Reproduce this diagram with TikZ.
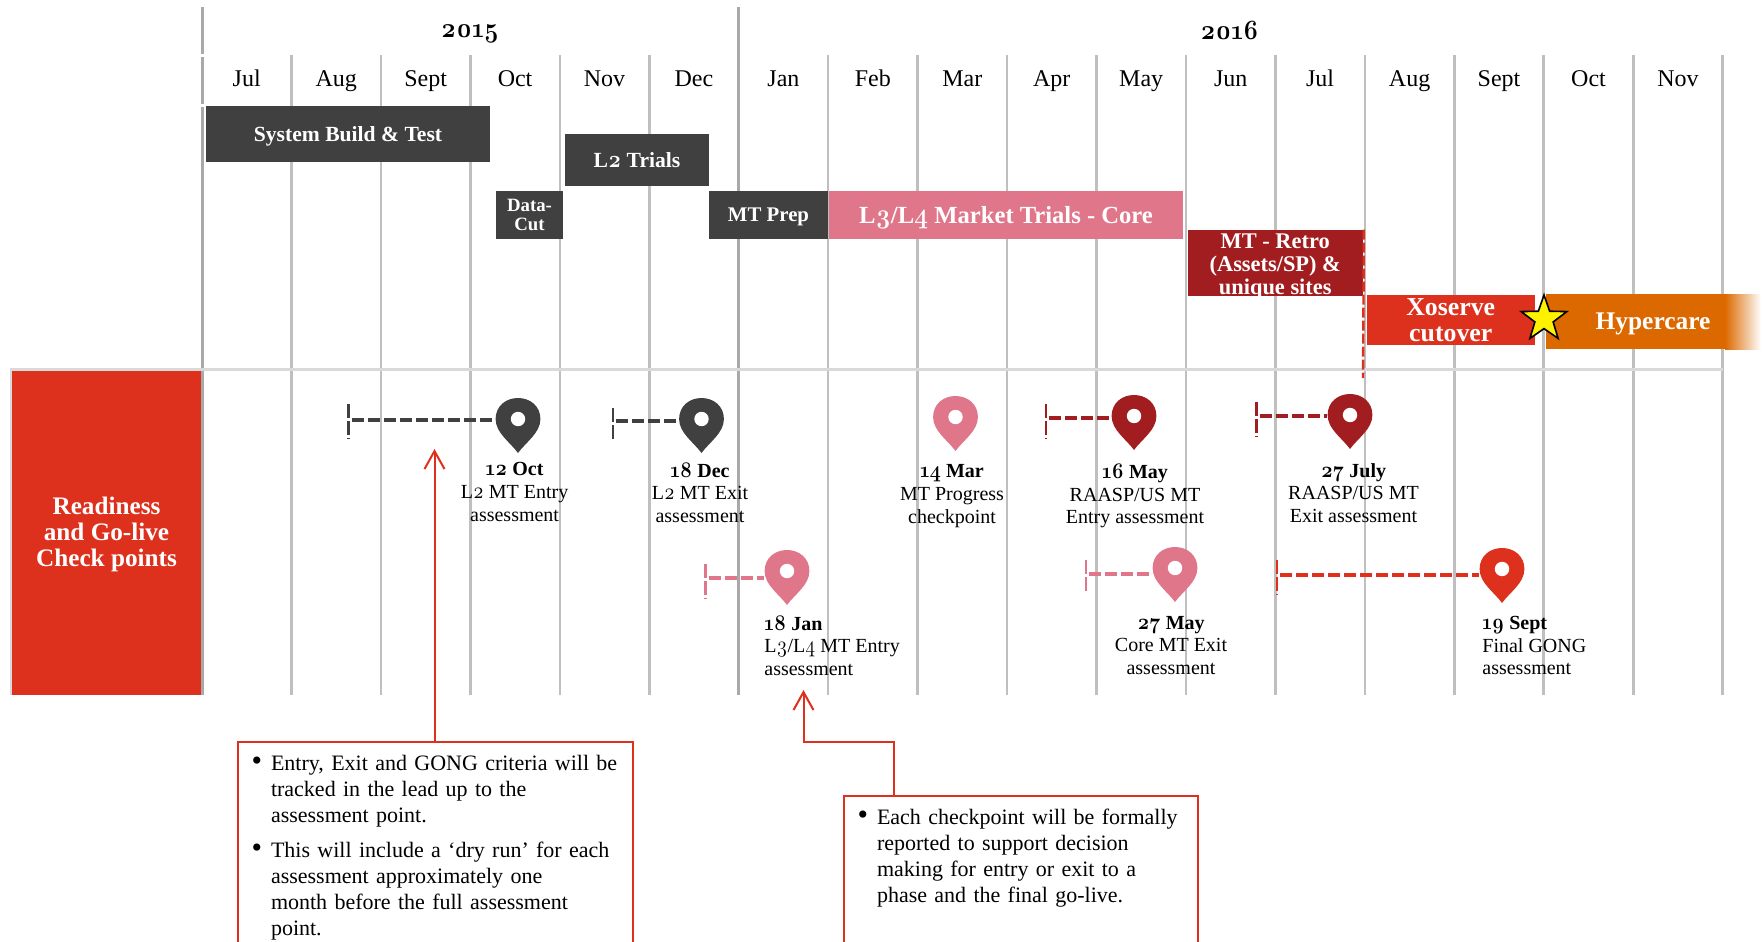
\documentclass[tikz,border=0pt]{standalone}
\usepackage{fontspec}
\setmainfont{Liberation Serif}
\newfontfamily\oldfigs[Numbers=OldStyle,Scale=1.12,FakeStretch=0.88]{Latin Modern Roman}
\usepackage{tikz}
\usetikzlibrary{shapes.geometric}
\usetikzlibrary{arrows.meta}
\definecolor{clrdark}{HTML}{404040}
\definecolor{clrpink}{HTML}{E0768A}
\definecolor{clrmaroon}{HTML}{A21D1F}
\definecolor{clrred}{HTML}{DE311D}
\definecolor{clrorange}{HTML}{DC6900}
\definecolor{clrgrid}{HTML}{BFBFBF}
\definecolor{clrgridb}{HTML}{A9A9A9}
\definecolor{clrrule}{HTML}{D9D9D9}
\def\colw{89.45}
\newcommand{\os}[1]{{\oldfigs #1}}
\tikzset{
	phase/.style={inner sep=0pt,align=center,text=white,font=\bfseries\fontsize{10.8}{11.5}\selectfont},
	oneline/.style={text depth=0pt},
	month/.style={text height=8pt,text depth=2.5pt,font=\fontsize{12}{14}\selectfont},
	year/.style={font=\bfseries\fontsize{12.5}{14}\selectfont},
	chklabel/.style={align=center,inner sep=0pt,font=\fontsize{10}{11.35}\selectfont},
	callout/.style={draw=clrred,line width=1pt,anchor=north west,inner xsep=0pt,inner ysep=1pt,
		text width=#1,text depth=110pt,font=\fontsize{11}{13}\selectfont},
	pointer/.style={draw=clrred,line width=1pt,-{Straight Barb[length=9pt,width=10pt]}},
}
\newenvironment{notelist}{\begin{list}{{\fontsize{15}{13}\selectfont\textbullet}}{%
	\setlength{\leftmargin}{16.5pt}\setlength{\labelsep}{4.5pt}\setlength{\labelwidth}{8pt}%
	\setlength{\topsep}{0pt}\setlength{\partopsep}{0pt}\setlength{\parsep}{0pt}\setlength{\itemsep}{4.5pt}}}{\end{list}}
% name, colour, position of the head centre
\newcommand{\checkpin}[3]{
	\begin{scope}[shift={#3}]
	\node [circle,minimum size=22.5pt,inner sep=0pt] (#1) at (0,0) {};
	\fill [#2] (0,33) .. controls (-8,22) and (-22.4,13) .. (-22.4,-1)
			.. controls (-22.4,-14) and (-12,-22) .. (0,-22)
			.. controls (12,-22) and (22.4,-14) .. (22.4,-1)
			.. controls (22.4,13) and (8,22) .. (0,33) -- cycle;
	\fill [white] (0,-1) circle (3.6pt);
	\end{scope}}
% pin name, colour, tick x, tick top, tick bottom, lead y
\newcommand{\leadin}[6]{
	\coordinate (#1tick) at ({#3+3},#6);
	\draw [#2,line width=1.3pt,dash pattern=on 7pt off 1.5pt] (#3,#4) -- (#3,#5);
	\draw [#2,line width=2pt,dash pattern=on 6pt off 2pt] (#1tick) -- (#1tick -| #1.west);}

\begin{document}
\begin{tikzpicture}[x=0.5pt,y=-0.5pt]
\useasboundingbox (0,0) rectangle (1764,941);
% grid
\foreach \i in {1,...,5,7,8,...,17}
	\draw [clrgrid,line width=1.3pt] ({202+\colw*\i},55) -- ({202+\colw*\i},695);
\draw [clrgridb,line width=1.5pt] (202,7) -- (202,54) (202,57) -- (202,104) (202,107) -- (202,695);
\draw [clrgridb,line width=1.5pt] ({202+\colw*6},7) -- ({202+\colw*6},695);
\draw [clrrule,line width=1.5pt] (11,695) -- (11,369) -- (1723,369);
% header
\node [year] (y2015) at (470,34) {\os{2015}};
\node [year] (y2016) at (1229.5,30) {\os{2016}};
\foreach \m [count=\i from 0] in {Jul,Aug,Sept,Oct,Nov,Dec,Jan,Feb,Mar,Apr,May,Jun,Jul,Aug,Sept,Oct,Nov}
	\node [month] (m\i) at ({202+\colw*(\i+0.5)},81) {\m};
% phases
\node [phase,oneline,fill=clrdark,minimum width=142pt,minimum height=28pt] (sysbuild) at (348,134) {System Build \& Test};
\node [phase,fill=clrdark,minimum width=72pt,minimum height=26pt] (ltwo) at (637,160) {L\os{2} Trials};
\node [phase,fill=clrdark,minimum width=33.5pt,minimum height=24pt,font=\bfseries\fontsize{9.4}{9.5}\selectfont] (datacut) at (529.5,215) {Data-\\Cut};
\node [phase,oneline,fill=clrdark,minimum width=59.5pt,minimum height=24pt,font=\bfseries\fontsize{10.4}{12}\selectfont] (mtprep) at (768.5,215) {MT Prep};
\node [phase,oneline,fill=clrpink,minimum width=177pt,minimum height=24pt,font=\bfseries\fontsize{12.3}{14}\selectfont] (core) at (1006,215) {L\os{3}/L\os{4} Market Trials - Core};
\node [phase,fill=clrmaroon,minimum width=87.25pt,minimum height=33pt] (retro) at (1275.25,263) {};
\node [phase,font=\bfseries\fontsize{11.2}{11.4}\selectfont] (retrotxt) at (1275.25,266.5) {MT - Retro\\(Assets/SP) \&\\unique sites};
\node [phase,fill=clrred,minimum width=84.25pt,minimum height=25pt,font=\bfseries\fontsize{12.9}{13}\selectfont] (xoserve) at (1450.75,320) {Xoserve\\cutover};
\fill [clrorange] (1546,294) rectangle (1725,349);
\shade [left color=clrorange,right color=white] (1725,294) rectangle (1761,349);
\node [phase,oneline,font=\bfseries\fontsize{12.7}{14}\selectfont] (hypercare) at (1653,321) {Hypercare};
\node [star,star points=5,star point ratio=2.5,minimum size=24pt,inner sep=0pt,draw=black,line width=0.8pt,fill=yellow] (golive) at (1544,319) {};
\coordinate (retrodrop) at (1363,378);
\draw [clrred,line width=1.2pt,dash pattern=on 5pt off 1.5pt] (retro.north east) ++(1,0) -- (retrodrop);
% check points
\node [phase,fill=clrred,minimum width=94.5pt,minimum height=162pt,font=\bfseries\fontsize{12.6}{13}\selectfont] (readiness) at (106.5,533) {\rule{0pt}{10.5pt}Readiness\\and Go-live\\Check points};
\checkpin {oct12} {clrdark} {(518,420)}
\checkpin {dec18} {clrdark} {(701.5,420)}
\checkpin {jan18} {clrpink} {(787,572)}
\checkpin {mar14} {clrpink} {(955.5,418)}
\checkpin {may16} {clrmaroon} {(1134,417)}
\checkpin {jul27} {clrmaroon} {(1350,416)}
\checkpin {may27} {clrpink} {(1175,569)}
\checkpin {sep19} {clrred} {(1502,570)}
\leadin {oct12} {clrdark} {348.5} {404} {439} {420}
\leadin {dec18} {clrdark} {613} {408} {442} {421}
\leadin {jan18} {clrpink} {705.5} {564} {599} {578}
\leadin {may16} {clrmaroon} {1046} {404} {439} {418}
\leadin {jul27} {clrmaroon} {1256.5} {402} {437} {416}
\leadin {may27} {clrpink} {1086} {560} {594} {574}
\leadin {sep19} {clrred} {1277} {560} {595} {575}
\node [chklabel] (oct12txt) at (514.6,492) {\textbf{\os{12} Oct}\\L\os{2} MT Entry\\assessment};
\node [chklabel] (dec18txt) at (700,492.5) {\textbf{\os{18} Dec}\\L\os{2} MT Exit\\assessment};
\node [chklabel] (mar14txt) at (952,496) {\textbf{\os{14} Mar}\\MT Progress\\checkpoint};
\node [chklabel] (may16txt) at (1135,496) {\textbf{\os{16} May}\\RAASP/US MT\\Entry assessment};
\node [chklabel] (jul27txt) at (1353.5,493) {\textbf{\os{27} July}\\RAASP/US MT\\Exit assessment};
\node [chklabel,align=left,anchor=west] (jan18txt) at (764,645.5) {\textbf{\os{18} Jan}\\L\os{3}/L\os{4} MT Entry\\assessment};
\node [chklabel] (may27txt) at (1171,645.5) {\textbf{\os{27} May}\\Core MT Exit\\assessment};
\node [chklabel,align=left,anchor=west] (sep19txt) at (1482,645.5) {\textbf{\os{19} Sept}\\Final GONG\\assessment};
% notes
\node [callout=197.5pt] (critbox) at (237,741) {\begin{notelist}
\item Entry, Exit and GONG criteria will be\\tracked in the lead up to the\\assessment point.
\item This will include a ‘dry run’ for each\\assessment approximately one\\month before the full assessment\\point.
\end{notelist}};
\node [callout=177pt] (reportbox) at (843,795) {\begin{notelist}
\item Each checkpoint will be formally\\reported to support decision\\making for entry or exit to a\\phase and the final go-live.
\end{notelist}};
\coordinate (crittip) at (434.5,449);
\coordinate (reporttip) at (803.5,690);
\coordinate (reportbend) at (894,742);
\draw [pointer] (critbox.north -| crittip) -- (crittip);
\draw [pointer] (reportbox.north -| reportbend) -- (reportbend) -- (reportbend -| reporttip) -- (reporttip);
\end{tikzpicture}
\end{document}
